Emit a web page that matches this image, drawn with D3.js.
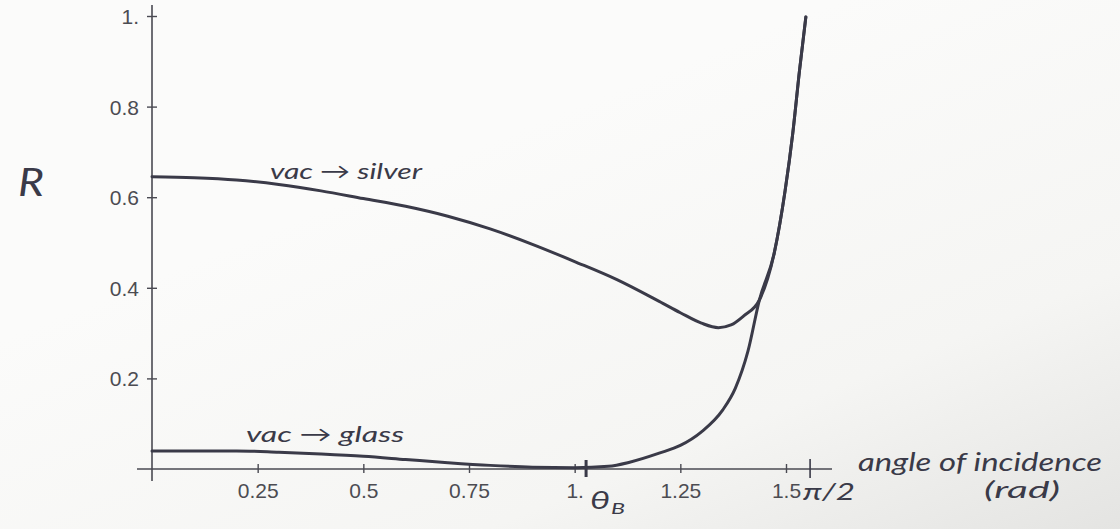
<!DOCTYPE html>
<html>
<head>
<meta charset="utf-8">
<script src="https://cdn.jsdelivr.net/npm/d3@7/dist/d3.min.js"></script>
<style>
  html, body { margin: 0; padding: 0; background: #f8f8f7; }
  svg { display: block; }
  .tick text { font-family: 'Liberation Sans', Arial, sans-serif; font-size: 21px; }
</style>
</head>
<body>
<svg id="chart" width="1120" height="529"></svg>
<script>
// Reflectance (p-polarised) vs angle of incidence, vacuum -> silver and vacuum -> glass
const silverAngle = [0, 0.1, 0.2, 0.3, 0.4, 0.5, 0.6, 0.7, 0.8, 0.9, 1.0, 1.1, 1.2, 1.25, 1.3, 1.34, 1.37, 1.40, 1.437, 1.472, 1.498, 1.516, 1.532, 1.547];
const silverR     = [0.645, 0.643, 0.638, 0.628, 0.614, 0.597, 0.580, 0.558, 0.530, 0.496, 0.458, 0.418, 0.370, 0.345, 0.322, 0.312, 0.318, 0.338, 0.373, 0.476, 0.615, 0.741, 0.880, 0.998];

const glassAngle = [0, 0.2, 0.3, 0.4, 0.5, 0.6, 0.7, 0.8, 0.9, 1.0, 1.08, 1.13, 1.2, 1.25, 1.3, 1.35, 1.38, 1.41, 1.437, 1.472, 1.498, 1.516, 1.532, 1.547];
const glassR     = [0.040, 0.040, 0.037, 0.033, 0.028, 0.021, 0.014, 0.008, 0.004, 0.003, 0.006, 0.015, 0.035, 0.052, 0.082, 0.130, 0.178, 0.260, 0.373, 0.476, 0.615, 0.741, 0.880, 0.998];

const xTickValues = [0.25, 0.5, 0.75, 1.0, 1.25, 1.5];
const xTickLabels = ["0.25", "0.5", "0.75", "1.", "1.25", "1.5"];
const yTickValues = [0.2, 0.4, 0.6, 0.8, 1.0];
const yTickLabels = ["0.2", "0.4", "0.6", "0.8", "1."];

const brewsterAngle = 1.027;
const halfPi = 1.557;

const svg = d3.select("#chart");

// paper tone, darker towards the lower right
const defs = svg.append("defs");
const grad = defs.append("linearGradient").attr("id", "paper")
  .attr("x1", "0.4").attr("y1", "0.3").attr("x2", "1").attr("y2", "1");
grad.append("stop").attr("offset", "0").attr("stop-color", "#fbfbfa");
grad.append("stop").attr("offset", "0.6").attr("stop-color", "#f5f5f3");
grad.append("stop").attr("offset", "1").attr("stop-color", "#e4e4e2");
svg.append("rect").attr("width", 1120).attr("height", 529).attr("fill", "url(#paper)");

const x = d3.scaleLinear().domain([0, 1.5]).range([152, 786]);
const y = d3.scaleLinear().domain([0, 1]).range([469, 16]);

const axisColor = "#4a4a52";
const inkColor = "#3a3a48";

// axis lines
svg.append("line").attr("x1", x(0) - 15).attr("x2", x(0) + 680)
  .attr("y1", y(0)).attr("y2", y(0))
  .attr("stroke", axisColor).attr("stroke-width", 1.6);
svg.append("line").attr("x1", x(0)).attr("x2", x(0))
  .attr("y1", y(1) - 11).attr("y2", y(0) + 12)
  .attr("stroke", axisColor).attr("stroke-width", 1.6);

// x axis ticks and labels
const xAxis = d3.axisBottom(x)
  .tickValues(xTickValues)
  .tickFormat((d, i) => xTickLabels[i])
  .tickSize(0);
const gx = svg.append("g").attr("transform", `translate(0,${y(0)})`).call(xAxis);
gx.select(".domain").remove();
gx.selectAll(".tick line").attr("y1", -5).attr("y2", 4)
  .attr("stroke", axisColor).attr("stroke-width", 1.4);
gx.selectAll(".tick text")
  .attr("y", 29).attr("dy", 0)
  .attr("fill", "#4c4c52");

// y axis ticks and labels
const yAxis = d3.axisLeft(y)
  .tickValues(yTickValues)
  .tickFormat((d, i) => yTickLabels[i])
  .tickSize(0);
const gy = svg.append("g").attr("transform", `translate(${x(0)},0)`).call(yAxis);
gy.select(".domain").remove();
gy.selectAll(".tick line").attr("x1", -5).attr("x2", 5)
  .attr("stroke", axisColor).attr("stroke-width", 1.4);
gy.selectAll(".tick text")
  .attr("x", -13).attr("dy", "0.36em")
  .attr("fill", "#4c4c52");

// curves
const line = d3.line()
  .x(d => x(d[0]))
  .y(d => y(d[1]))
  .curve(d3.curveMonotoneX);

svg.append("path")
  .datum(glassAngle.map((a, i) => [a, glassR[i]]))
  .attr("d", line)
  .attr("fill", "none").attr("stroke", inkColor)
  .attr("stroke-width", 3).attr("stroke-linejoin", "round").attr("stroke-linecap", "round");

svg.append("path")
  .datum(silverAngle.map((a, i) => [a, silverR[i]]))
  .attr("d", line)
  .attr("fill", "none").attr("stroke", inkColor)
  .attr("stroke-width", 3).attr("stroke-linejoin", "round").attr("stroke-linecap", "round");

// pen marks on the angle axis: Brewster angle and pi/2
svg.append("line").attr("x1", x(brewsterAngle)).attr("x2", x(brewsterAngle))
  .attr("y1", y(0) - 9).attr("y2", y(0) + 8)
  .attr("stroke", inkColor).attr("stroke-width", 3);
svg.append("line").attr("x1", x(halfPi)).attr("x2", x(halfPi))
  .attr("y1", y(0) - 10).attr("y2", y(0) + 9)
  .attr("stroke", inkColor).attr("stroke-width", 1.6);

// handwritten notes
const hand = "'Lato', 'Open Sans', sans-serif";
function note(txt, px, py, size, len) {
  const t = svg.append("text")
    .attr("x", px).attr("y", py)
    .attr("fill", inkColor)
    .style("font-family", hand)
    .style("font-style", "italic")
    .style("font-weight", 400)
    .style("font-size", size + "px")
    .text(txt);
  if (len) t.attr("textLength", len).attr("lengthAdjust", "spacingAndGlyphs");
  return t;
}

note("R", 18, 196, 38, 26);
note("vac \u2192 silver", 270, 179, 22, 152);
note("vac \u2192 glass", 246, 442, 22, 158);
note("angle of incidence", 858, 471, 26, 244);
note("(rad)", 984, 498, 23, 76);
note("\u03b8", 590, 509, 25, 20);
note("B", 611, 514, 16, 14);
note("\u03c0/2", 803, 500, 24, 52);
</script>
</body>
</html>
